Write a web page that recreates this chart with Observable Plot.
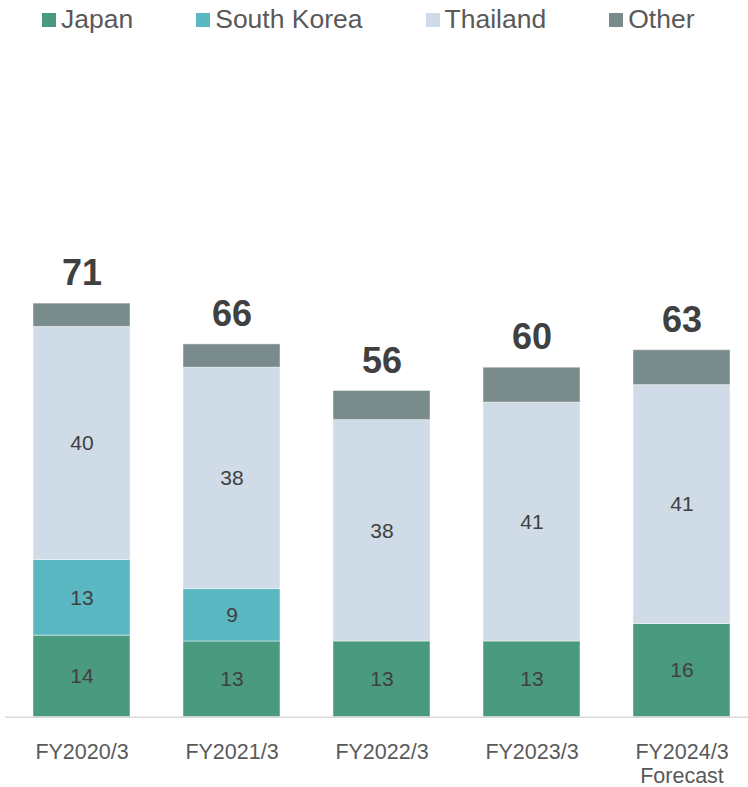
<!DOCTYPE html>
<html>
<head>
<meta charset="utf-8">
<script src="https://cdn.jsdelivr.net/npm/d3@7"></script>
<script src="https://cdn.jsdelivr.net/npm/@observablehq/plot@0.6"></script>
<style>
  html, body { margin: 0; padding: 0; background: #fff; }
  body { width: 748px; height: 787px; overflow: hidden; font-family: "Liberation Sans", Arial, sans-serif; }
  #legend { height: 38px; width: 748px; display: flex; flex-wrap: nowrap; align-items: center; padding-left: 42px; box-sizing: border-box; }
  .item { display: flex; flex: 0 0 auto; align-items: center; margin-right: 63px; font-size: 26.5px; color: #595959; line-height: 30px; white-space: nowrap; }
  .sw { width: 14px; height: 14px; flex: 0 0 auto; margin-right: 5px; margin-top: 2px; }
</style>
</head>
<body>
<div id="legend"></div>
<div id="chart"></div>
<script>
const categories = ["FY2020/3", "FY2021/3", "FY2022/3", "FY2023/3", "FY2024/3\nForecast"];
const regions = ["Japan", "South Korea", "Thailand", "Other"];
const colors = ["#4a9a80", "#5bb7c1", "#cfdbe6", "#798b8b"];
const japan = [14, 13, 13, 13, 16];
const southKorea = [13, 9, 0, 0, 0];
const thailand = [40, 38, 38, 41, 41];
const other = [4, 4, 5, 6, 6];
const totals = [71, 66, 56, 60, 63];

const series = [japan, southKorea, thailand, other];
const data = categories.flatMap((c, i) => regions.map((r, k) => ({category: c, region: r, value: series[k][i]})));
const totalData = categories.map((c, i) => ({category: c, top: d3.sum(series, s => s[i]), label: totals[i]}));

// legend
const legend = document.getElementById("legend");
regions.forEach((r, k) => {
  const it = document.createElement("div");
  it.className = "item";
  const sw = document.createElement("span");
  sw.className = "sw";
  sw.style.background = colors[k];
  const tx = document.createElement("span");
  tx.textContent = r;
  it.appendChild(sw);
  it.appendChild(tx);
  legend.appendChild(it);
});

const H = 749;
const base = 678.7;
const ppu = 5.825;

const chart = Plot.plot({
  width: 748,
  height: H,
  marginLeft: 32,
  marginRight: 17.3,
  marginTop: 20,
  marginBottom: H - base,
  style: { fontFamily: "'Liberation Sans', Arial, sans-serif", background: "#fff" },
  x: { domain: categories, paddingInner: 0.355, paddingOuter: 0, axis: null },
  y: { domain: [0, 100], range: [base, base - 100 * ppu], axis: null },
  color: { domain: regions, range: colors },
  marks: [
    Plot.barY(data, { x: "category", y: "value", fill: "region", stroke: "#ffffff", strokeOpacity: 0.45, strokeWidth: 1 }),
    Plot.text(data, Plot.stackY({
      x: "category", y: "value", z: "region",
      text: d => (d.region !== "Other" && d.value > 0) ? String(d.value) : "",
      fill: "#404040", fontSize: 21
    })),
    Plot.text(totalData, { x: "category", y: "top", text: "label", dy: -30, fontSize: 36, fontWeight: "bold", fill: "#404040" }),
    Plot.ruleY([0], { stroke: "#d9d9d9", strokeWidth: 1.5, insetLeft: -27, insetRight: -18 }),
    Plot.axisX({ tickSize: 0, tickPadding: 25, fontSize: 21.5, lineHeight: 1.1, fill: "#595959", label: null })
  ]
});
document.getElementById("chart").appendChild(chart);
</script>
</body>
</html>
